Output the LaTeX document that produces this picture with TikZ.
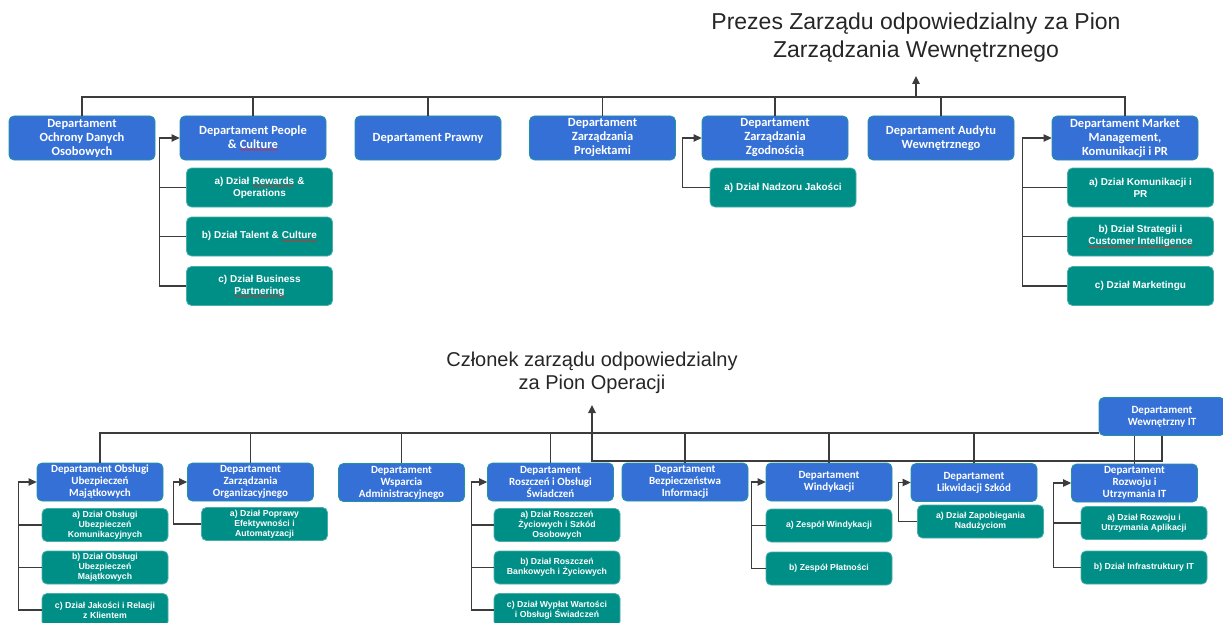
\documentclass[tikz,border=0pt]{standalone}
\usepackage{fontspec}
\usetikzlibrary{arrows.meta,decorations.pathmorphing}
\setmainfont{Liberation Sans}
\newfontfamily\deptfont{Carlito}
\definecolor{deptblue}{RGB}{53,112,214}
\definecolor{deptedge}{RGB}{30,150,160}
\definecolor{unitteal}{RGB}{0,143,135}
\definecolor{unitedge}{RGB}{70,175,170}
\definecolor{linegray}{RGB}{60,60,60}
\definecolor{titlegray}{RGB}{38,38,38}
\definecolor{spellred}{RGB}{225,40,40}
\newcommand\spellerr[1]{\tikz[baseline=(w.base)]{\node [inner sep=0pt, outer sep=0pt, minimum width=0pt, minimum height=0pt, draw=none, fill=none, text=white] (w) {#1};
  \draw [spellred, sharp corners, line width=0.5pt, decorate, decoration={snake, amplitude=0.7pt, segment length=2.6pt}] ([yshift=-1.8pt]w.base west) -- ([yshift=-1.8pt]w.base east);}}

\tikzset{every picture/.style={line width=1.2pt},
  dept/.style={draw=deptedge, line width=0.8pt, fill=deptblue, rounded corners=5pt, text=white, align=center, inner sep=0pt, minimum width=146pt, minimum height=44pt, font=\deptfont\bfseries\fontsize{12.5}{14}\selectfont},
  unit/.style={draw=unitedge, line width=0.8pt, fill=unitteal, rounded corners=5pt, text=white, align=center, inner sep=0pt, minimum width=146pt, minimum height=39pt, font=\bfseries\fontsize{10}{12}\selectfont},
  deptS/.style={dept, minimum width=126pt, minimum height=38pt, font=\deptfont\bfseries\fontsize{11}{12}\selectfont},
  unitS/.style={unit, minimum width=126pt, minimum height=33pt, font=\bfseries\fontsize{8.7}{10}\selectfont},
  link/.style={draw=linegray, line width=1.2pt},
  bus/.style={draw=linegray, line width=1.6pt},
  arr/.style={link, -{Triangle[length=8pt,width=7.5pt]}},
  board/.style={text=titlegray, align=center, inner xsep=0pt}
}

\begin{document}
\begin{tikzpicture}[x=1pt,y=1pt,yscale=-1,xscale=1]
\useasboundingbox (0,0) rectangle (1223,623);

%Board members
\node [board, font=\fontsize{23}{28}\selectfont, anchor=south, inner ysep=13pt] (prezes) at (916,76) {Prezes Zarządu odpowiedzialny za Pion\\Zarządzania Wewnętrznego};
\node [board, font=\fontsize{20}{23}\selectfont, anchor=south, inner ysep=10.5pt] (czlonek) at (592,405) {Członek zarządu odpowiedzialny\\za Pion Operacji};

%Departments, top row
\node [dept] (ochrony) at (82,138) {Departament\\Ochrony Danych\\Osobowych};
\node [dept] (people) at (253,138) {Departament People\\\& \spellerr{Culture}};
\node [dept] (prawny) at (428,138) {Departament Prawny};
\node [dept] (projekty) at (602.5,138) {Departament\\Zarządzania\\Projektami};
\node [dept] (zgodnosc) at (775,138) {Departament\\Zarządzania\\Zgodnością};
\node [dept] (audyt) at (941,138) {Departament Audytu\\Wewnętrznego};
\node [dept] (market) at (1125,138) {Departament Market\\Management,\\Komunikacji i PR};

%Units, top row
\node [unit] (pcA) at (259.5,187.5) {a) Dział \spellerr{Rewards} \&\\Operations};
\node [unit] (pcB) at (259.5,236.5) {b) Dział Talent \& \spellerr{Culture}};
\node [unit] (pcC) at (259.5,286) {c) Dział Business\\\spellerr{Partnering}};
\node [unit] (nadzor) at (783,187.5) {a) Dział Nadzoru Jakości};
\node [unit] (mkA) at (1140.5,187.5) {a) Dział Komunikacji i\\PR};
\node [unit] (mkB) at (1140.5,236.5) {b) Dział Strategii i\\\spellerr{Customer Intelligence}};
\node [unit] (mkC) at (1140.5,286) {c) Dział Marketingu};

%Departments, bottom row
\node [deptS] (itdep) at (1162,416.5) {Departament\\Wewnętrzny IT};
\node [deptS] (obslugi) at (100,482) {Departament Obsługi\\Ubezpieczeń\\Majątkowych};
\node [deptS] (organiz) at (250.5,482) {Departament\\Zarządzania\\Organizacyjnego};
\node [deptS] (wsparcie) at (401.5,482.5) {Departament\\Wsparcia\\Administracyjnego};
\node [deptS] (roszcz) at (550.5,482) {Departament\\Roszczeń i Obsługi\\Świadczeń};
\node [deptS] (bezpiecz) at (685,482) {Departament\\Bezpieczeństwa\\Informacji};
\node [deptS] (windyk) at (829,482) {Departament\\Windykacji};
\node [deptS] (likwid) at (974,482.5) {Departament\\Likwidacji Szkód};
\node [deptS] (rozwoj) at (1134.5,483) {Departament\\Rozwoju i\\Utrzymania IT};

%Units, bottom row
\node [unitS] (ubA) at (105,525) {a) Dział Obsługi\\Ubezpieczeń\\Komunikacyjnych};
\node [unitS] (ubB) at (105,567.5) {b) Dział Obsługi\\Ubezpieczeń\\Majątkowych};
\node [unitS] (ubC) at (105,610) {c) Dział Jakości i Relacji\\z Klientem};
\node [unitS] (orgA) at (264.5,524) {a) Dział Poprawy\\Efektywności i\\Automatyzacji};
\node [unitS] (rsA) at (557,525) {a) Dział Roszczeń\\Życiowych i Szkód\\Osobowych};
\node [unitS] (rsB) at (557,567.5) {b) Dział Roszczeń\\Bankowych i Życiowych};
\node [unitS] (rsC) at (557,610) {c) Dział Wypłat Wartości\\i Obsługi Świadczeń};
\node [unitS] (wdA) at (829,525.5) {a) Zespół Windykacji};
\node [unitS] (wdB) at (829,568.5) {b) Zespół Płatności};
\node [unitS] (lkA) at (980.5,521.5) {a) Dział Zapobiegania\\Nadużyciom};
\node [unitS] (rzA) at (1144,523) {a) Dział Rozwoju i\\Utrzymania Aplikacji};
\node [unitS] (rzB) at (1144,567.5) {b) Dział Infrastruktury IT};

%Top bus
\coordinate (topbus) at (916,97);
\draw [bus] (ochrony.north) |- (topbus) -| (market.north);
\foreach \d in {people,prawny,projekty,zgodnosc,audyt}
  \draw [link] (\d.north) -- (\d.north |- topbus);
\draw [arr] (topbus) -- (prezes.south);

%Bottom bus
\coordinate (botbus) at (592,433);
\coordinate (opsline) at (592,461);
\draw [bus] (obslugi.north) |- (itdep.west |- botbus);
\foreach \d in {organiz,wsparcie,roszcz,bezpiecz,windyk,likwid}
  \draw [link] (\d.north) -- (\d.north |- botbus);
\draw [link] (botbus) -- (opsline) -| (itdep.south);
\draw [link] (itdep.south -| rozwoj.north) -- (rozwoj.north);
\draw [arr] (botbus) -- (czlonek.south);

%Units to their departments
\draw [arr] (pcC.west) -- ++(-27,0) |- (people.west);
\foreach \u in {pcA,pcB} \draw [link] (\u.west) -- ++(-27,0);
\draw [arr] (nadzor.west) -- ++(-27,0) |- (zgodnosc.west);
\draw [arr] (mkC.west) -- ++(-45,0) |- (market.west);
\foreach \u in {mkA,mkB} \draw [link] (\u.west) -- ++(-45,0);

\draw [arr] (ubC.west) -- ++(-23,0) |- (obslugi.west);
\foreach \u in {ubA,ubB} \draw [link] (\u.west) -- ++(-23,0);
\draw [arr] (orgA.west) -- ++(-28,0) |- (organiz.west);
\draw [arr] (rsC.west) -- ++(-22,0) |- (roszcz.west);
\foreach \u in {rsA,rsB} \draw [link] (\u.west) -- ++(-22,0);
\draw [arr] (wdB.west) -- ++(-14,0) |- (windyk.west);
\draw [link] (wdA.west) -- ++(-14,0);
\draw [arr] (lkA.west) -- ++(-19,0) |- (likwid.west);
\draw [arr] (rzB.west) -- ++(-27,0) |- (rozwoj.west);
\draw [link] (rzA.west) -- ++(-27,0);

\end{tikzpicture}
\end{document}
